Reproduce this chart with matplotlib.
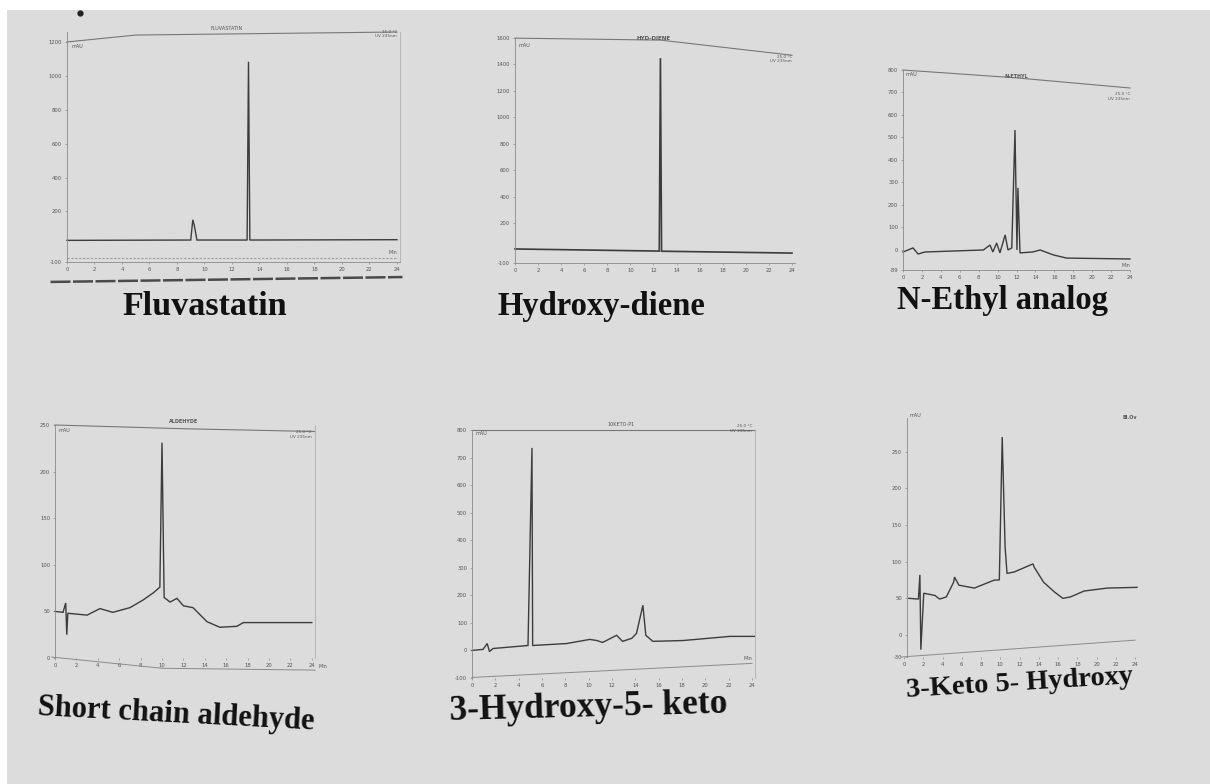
import matplotlib.pyplot as plt
from matplotlib.patches import Rectangle

# ---------------- data (time in min, signal in mAU) ----------------
titles = ["Fluvastatin", "Hydroxy-diene", "N-Ethyl analog",
          "Short chain aldehyde", "3-Hydroxy-5- keto", "3-Keto 5- Hydroxy"]
x_ticks = list(range(0, 25, 2))

# Fluvastatin
fluva_t = [0, 9.0, 9.15, 9.25, 9.45, 13.1, 13.2, 13.3, 24]
fluva_y = [28, 30, 150, 120, 30, 30, 1085, 30, 32]
fluva_top_t = [0, 5, 24]
fluva_top_y = [1202, 1243, 1261]
fluva_low_y = [-78, -78]
fluva_rule_t = [-1.2, 24.4]
fluva_rule_y = [-218, -189]
fluva_yticks = [-100, 200, 400, 600, 800, 1000, 1200]

# Hydroxy-diene
diene_t = [0, 12.5, 12.6, 12.7, 24]
diene_y = [6, -10, 1448, -11, -25]
diene_top_t = [0, 12.6, 24]
diene_top_y = [1599, 1584, 1470]
diene_yticks = [-100, 200, 400, 600, 800, 1000, 1200, 1400, 1600]

# N-Ethyl analog
ethyl_t = [0, 1.06, 1.6, 2.3, 8.5, 9.2, 9.5, 9.9, 10.25, 10.8, 11.1, 11.5,
           11.84, 12.05, 12.15, 12.37, 13.7, 14.5, 15.9, 17.3, 24]
ethyl_y = [-9, 9, -18, -9, 0, 22, -9, 31, -13, 67, 0, 9,
           533, 0, 276, -13, -9, 0, -22, -36, -40]
ethyl_top_t = [0, 12, 24]
ethyl_top_y = [800, 765, 720]
ethyl_yticks = [-89, 0, 100, 200, 300, 400, 500, 600, 700, 800]

# Short chain aldehyde
alde_t = [0, 0.75, 1.0, 1.1, 1.2, 3.0, 4.2, 5.4, 7.0, 8.2, 9.2, 9.8, 10.0,
          10.2, 10.75, 11.4, 12.0, 12.9, 14.2, 15.4, 17.0, 17.6, 24]
alde_y = [50, 49, 59, 25, 48, 46, 53, 49, 54, 62, 70, 76, 231,
          65, 60, 64, 56, 54, 39, 33, 34, 38, 38]
alde_top_t = [0, 12, 24.3]
alde_top_y = [250, 246, 243]
alde_axis_t = [-0.3, 10, 24.3]
alde_axis_y = [1, -11, -13]
alde_yticks = [0, 50, 100, 150, 200, 250]

# 3-Hydroxy-5-keto
keto_t = [0, 0.95, 1.3, 1.5, 1.8, 4.8, 5.14, 5.2, 8.1, 10.1, 10.7, 11.2,
          12.4, 12.9, 13.7, 14.1, 14.65, 14.9, 15.5, 18.1, 22.1, 24.2]
keto_y = [0, 4, 25, -4, 7, 18, 735, 18, 25, 40, 36, 29,
          55, 33, 44, 62, 164, 55, 33, 36, 51, 51]
keto_top_t = [0, 24.26]
keto_top_y = [800, 800]
keto_axis_t = [0, 24]
keto_axis_y = [-98, -47]
keto_yticks = [-100, 0, 100, 200, 300, 400, 500, 600, 700, 800]

# 3-Keto-5-hydroxy
khyd_t = [0.5, 1.5, 1.65, 1.75, 2.05, 3.2, 3.7, 4.4, 5.15, 5.25, 5.7, 7.3,
          9.4, 9.9, 10.2, 10.5, 10.7, 11.45, 13.4, 13.5, 14.5, 15.6, 16.5,
          17.3, 18.7, 21.1, 24.2]
khyd_y = [50, 49, 82, -20, 57, 54, 49, 52, 72, 79, 68, 64,
          75, 75, 270, 120, 84, 86, 97, 93, 72, 59, 50,
          52, 60, 64, 65]
khyd_axis_t = [-0.3, 24]
khyd_axis_y = [-30, -7]
khyd_yticks = [-30, 0, 50, 100, 150, 200, 250]

# header labels printed on the traces
top_labels = ["FLUVASTATIN", "HYD-DIENE", "N-ETHYL", "ALDEHYDE", "10KETO-P1"]

# ---------------- layout ----------------
W, H = 1210, 784
fig = plt.figure(figsize=(W / 100, H / 100), dpi=100, facecolor="white")
fig.add_artist(Rectangle((7 / W, 0), 1, 1 - 10 / H, transform=fig.transFigure,
                         facecolor="#dcdcdc", edgecolor="none", zorder=-10))

INK = "#3c3c3c"
AX = "#8a8a8a"


def panel(l, t, r, b, xlim, ylim, yticks, right=False, bottom=True):
    ax = fig.add_axes([l / W, 1 - b / H, (r - l) / W, (b - t) / H])
    ax.set_facecolor("none")
    ax.set_xlim(*xlim)
    ax.set_ylim(*ylim)
    ax.set_xticks(x_ticks)
    ax.set_yticks(yticks)
    ax.set_xticklabels([str(v) for v in x_ticks])
    ax.set_yticklabels([str(v) for v in yticks])
    ax.tick_params(labelsize=3.8, labelcolor="#555555", length=1.5,
                   width=0.5, color=AX, pad=2)
    for s in ax.spines.values():
        s.set_color(AX)
        s.set_linewidth(0.6)
    ax.spines["top"].set_visible(False)
    ax.spines["right"].set_visible(right)
    ax.spines["right"].set_color("#b0b0b0")
    ax.spines["bottom"].set_visible(bottom)
    return ax


def trace(ax, t, y, lw=1.0, color=INK, **kw):
    ax.plot(t, y, color=color, lw=lw, clip_on=False, solid_joinstyle="miter", **kw)


def small(ax, x, y, s, **kw):
    kw.setdefault("fontsize", 3.5)
    ax.text(x, y, s, color="#555555", clip_on=False, **kw)


# Fluvastatin
ax1 = panel(67, 32, 400, 262, (0, 24.22), (-100, 1261), fluva_yticks, right=True)
trace(ax1, fluva_top_t, fluva_top_y, lw=0.8, color="#777777")
trace(ax1, [0, 24], fluva_low_y, lw=0.8, color="#9a9a9a", ls=(0, (2, 1.5)))
trace(ax1, fluva_t, fluva_y, lw=1.0)
trace(ax1, fluva_rule_t, fluva_rule_y, lw=1.8, color="#4a4a4a", ls=(0, (8, 1)))
ax1.plot([0.95], [1374], "o", ms=3.5, color="#222222", clip_on=False)
small(ax1, 11.6, 1268, top_labels[0], ha="center", va="bottom")
small(ax1, 24.0, 1250, "25.0 °C\nUV 235nm", ha="right", va="center", fontsize=3)
small(ax1, 0.3, 1190, "mAU", va="top")
small(ax1, 24.0, -60, "Min", ha="right", va="bottom")

# Hydroxy-diene
ax2 = panel(515, 38, 795, 263, (0, 24.26), (-100, 1599), diene_yticks)
trace(ax2, diene_top_t, diene_top_y, lw=0.8, color="#777777")
trace(ax2, diene_t, diene_y, lw=1.2)
small(ax2, 12.0, 1600, top_labels[1], ha="center", va="center", fontsize=4,
      fontweight="bold")
small(ax2, 24.0, 1440, "25.0 °C\nUV 235nm", ha="right", va="center", fontsize=3)
small(ax2, 0.3, 1560, "mAU", va="top")

# N-Ethyl analog
ax3 = panel(903, 70, 1130, 270, (0, 24), (-89, 800), ethyl_yticks)
trace(ax3, ethyl_top_t, ethyl_top_y, lw=0.8, color="#777777")
trace(ax3, ethyl_t, ethyl_y, lw=1.0)
small(ax3, 12.0, 770, top_labels[2], ha="center", va="center", fontweight="bold")
small(ax3, 24.0, 700, "25.0 °C\nUV 235nm", ha="right", va="top", fontsize=3)
small(ax3, 0.3, 790, "mAU", va="top")
small(ax3, 24.0, -80, "Min", ha="right", va="bottom")

# Short chain aldehyde
ax4 = panel(55, 425, 315, 658, (0, 24.3), (0, 250), alde_yticks, right=True,
            bottom=False)
trace(ax4, alde_top_t, alde_top_y, lw=0.8, color="#777777")
trace(ax4, alde_axis_t, alde_axis_y, lw=0.7, color="#8a8a8a")
trace(ax4, alde_t, alde_y, lw=1.0)
small(ax4, 12.0, 251, top_labels[3], ha="center", va="bottom", fontweight="bold")
small(ax4, 24.0, 240, "25.0 °C\nUV 235nm", ha="right", va="center", fontsize=3)
small(ax4, 0.3, 247, "mAU", va="top")
small(ax4, 24.6, -9, "Min", ha="left", va="center")

# 3-Hydroxy-5-keto
ax5 = panel(472, 430, 755, 678, (0, 24.26), (-100, 800), keto_yticks, right=True,
            bottom=False)
trace(ax5, keto_top_t, keto_top_y, lw=0.8, color="#777777")
trace(ax5, keto_axis_t, keto_axis_y, lw=0.7, color="#8a8a8a")
trace(ax5, keto_t, keto_y, lw=1.0)
small(ax5, 12.8, 812, top_labels[4], ha="center", va="bottom")
small(ax5, 24.0, 805, "25.0 °C\nUV 235nm", ha="right", va="center", fontsize=3)
small(ax5, 0.3, 795, "mAU", va="top")
small(ax5, 24.0, -40, "Min", ha="right", va="bottom")

# 3-Keto-5-hydroxy
ax6 = panel(904, 418, 1137, 657, (0, 24.2), (-30, 296), khyd_yticks, bottom=False)
ax6.spines["left"].set_position(("data", 0.3))
trace(ax6, khyd_axis_t, khyd_axis_y, lw=0.7, color="#8a8a8a")
trace(ax6, khyd_t, khyd_y, lw=1.0)
small(ax6, 23.4, 296, "Bl.Ov", ha="center", va="center", fontweight="bold")
small(ax6, 0.6, 300, "mAU", va="center")

# ---------------- titles ----------------
title_font = dict(family="Liberation Serif", weight="bold", color="#111111",
                  ha="center", va="center")
fig.text(205 / W, 1 - 306 / H, titles[0], fontsize=24.5, **title_font)
fig.text(601 / W, 1 - 307 / H, titles[1], fontsize=23.5, **title_font)
fig.text(1003 / W, 1 - 301 / H, titles[2], fontsize=23.5, **title_font)
fig.text(176 / W, 1 - 715 / H, titles[3], fontsize=22, rotation=-3, **title_font)
fig.text(589 / W, 1 - 708 / H, titles[4], fontsize=25.5, rotation=1.5, **title_font)
fig.text(1020 / W, 1 - 684 / H, titles[5], fontsize=20.5, rotation=3.5, **title_font)

fig.savefig("out.png", dpi=100, facecolor=fig.get_facecolor())
